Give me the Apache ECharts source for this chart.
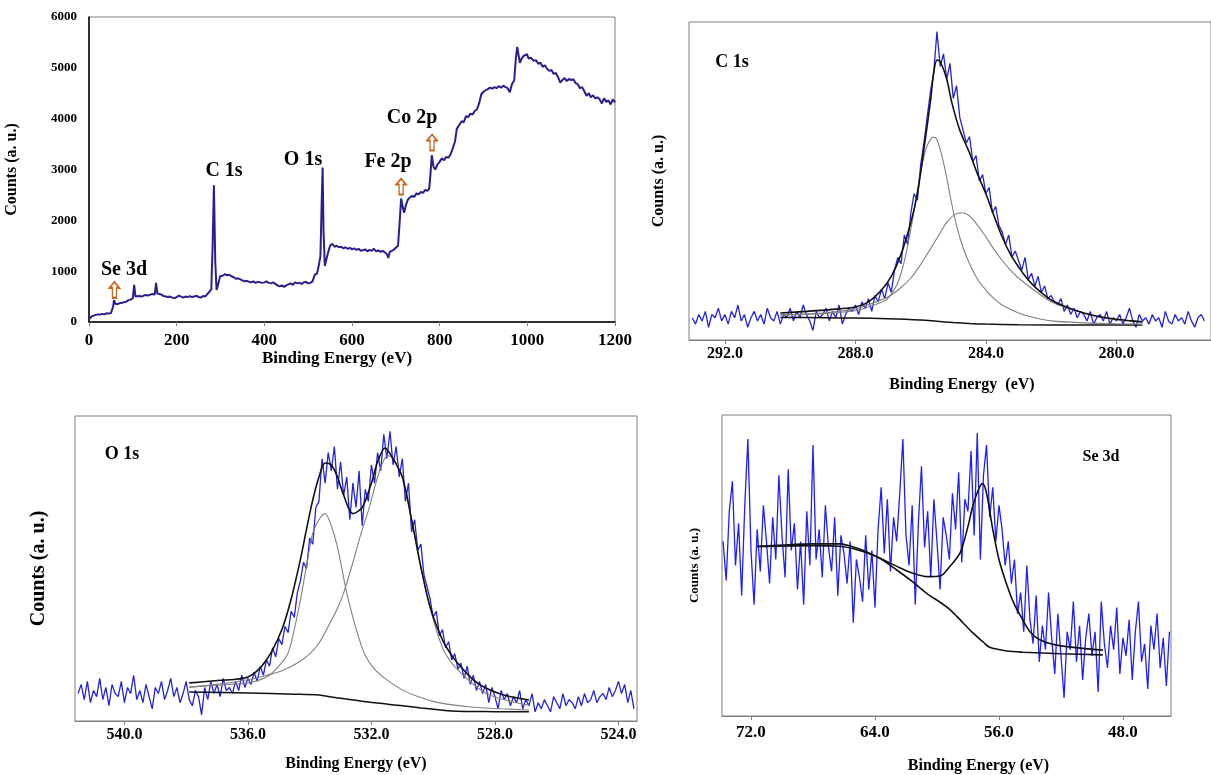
<!DOCTYPE html>
<html>
<head>
<meta charset="utf-8">
<title>XPS spectra</title>
<script src="https://cdn.jsdelivr.net/npm/echarts@6/dist/echarts.min.js"></script>
<style>
  html, body { margin: 0; padding: 0; background: #fff; }
  #chart-container { width: 1211px; height: 775px; }
</style>
</head>
<body>
<div id="chart-container"></div>
<script>
// survey spectrum, [binding energy eV, counts]
const surveyPoints = [
  [0,60],[3,90],[6,110],[10,120],[15,140],[20,150],[25,145],[30,160],[35,150],[40,170],[45,165],[50,175],[53,180],
  [55,300],[57,430],[60,360],[65,350],[70,370],[75,380],[80,390],[85,400],[90,430],[95,440],[100,470],[103,730],
  [106,500],[110,480],[115,510],[120,500],[125,520],[130,530],[135,520],[140,540],[145,550],[150,540],[153,770],
  [156,560],[160,530],[165,540],[170,510],[175,500],[180,490],[185,500],[190,480],[195,470],[200,490],[205,520],
  [210,500],[215,480],[220,500],[225,490],[230,510],[235,490],[240,500],[245,520],[250,490],[255,480],[260,510],
  [265,500],[270,550],[275,600],[279,640],[282,1500],[285,2690],[288,1200],[291,630],[295,750],[299,900],[305,910],
  [310,940],[315,920],[320,930],[325,900],[330,880],[335,850],[340,860],[345,840],[350,820],[355,800],[360,810],
  [365,790],[370,780],[375,800],[380,770],[385,790],[390,780],[395,770],[400,780],[405,800],[410,770],[415,760],
  [420,780],[425,750],[430,720],[435,700],[440,720],[445,690],[450,720],[455,740],[460,760],[465,730],[470,780],
  [475,760],[480,770],[485,750],[490,780],[495,790],[500,760],[505,770],[510,800],[515,930],[520,950],[524,1100],
  [528,1300],[531,2400],[533,3040],[535,1800],[538,1100],[542,1250],[546,1380],[550,1500],[555,1540],[560,1480],
  [565,1500],[570,1470],[575,1480],[580,1450],[585,1470],[590,1440],[595,1460],[600,1430],[605,1450],[610,1420],
  [615,1440],[620,1400],[625,1410],[630,1430],[635,1390],[640,1420],[645,1400],[650,1440],[655,1390],[660,1410],
  [665,1380],[670,1400],[675,1370],[680,1330],[683,1260],[686,1380],[690,1400],[695,1420],[700,1460],[705,1500],
  [709,2000],[712,2430],[716,2250],[719,2150],[723,2300],[727,2400],[732,2450],[737,2480],[742,2460],[747,2530],
  [752,2510],[757,2560],[762,2540],[767,2600],[772,2580],[776,2620],[779,2900],[782,3280],[786,3050],[790,3000],
  [795,3100],[800,3150],[805,3220],[810,3180],[815,3250],[820,3230],[825,3300],[830,3420],[835,3550],[839,3800],
  [845,3880],[850,3950],[855,3930],[860,4050],[865,4030],[870,4100],[875,4080],[880,4150],[885,4180],[890,4300],
  [895,4480],[900,4530],[905,4560],[910,4580],[915,4610],[920,4590],[925,4620],[930,4600],[935,4640],[940,4610],
  [945,4650],[950,4620],[955,4600],[960,4520],[965,4680],[970,4750],[974,5200],[977,5410],[980,5250],[983,5100],
  [987,5180],[991,5230],[995,5200],[999,5270],[1003,5180],[1008,5200],[1014,5140],[1020,5150],[1025,5080],
  [1030,5100],[1035,5020],[1040,5050],[1045,4980],[1050,4940],[1055,4960],[1060,4880],[1065,4900],[1070,4820],
  [1075,4710],[1080,4760],[1085,4800],[1090,4740],[1095,4780],[1100,4760],[1105,4775],[1110,4700],[1115,4680],
  [1120,4600],[1125,4620],[1130,4540],[1135,4450],[1140,4500],[1145,4420],[1150,4460],[1155,4400],[1160,4420],
  [1165,4380],[1170,4300],[1175,4400],[1180,4330],[1185,4360],[1190,4280],[1195,4380],[1200,4320]
];

// peak markers on the survey: [energy, counts]
const surveyArrows = [[58, 632], [712, 2664], [782.6, 3533]];

// C 1s region, 293.0 eV downwards in 0.1 eV steps (arbitrary units)
const c1sStart = 293.0;
const c1sStep = 0.1;
const c1sCounts = [
  7, 5, 8, 6, 9, 4, 8, 7, 10, 6,
  8, 5, 9, 7, 11, 6, 8, 4, 7, 9,
  6, 8, 5, 10, 7, 6, 9, 5, 8, 7,
  10, 6, 9, 7, 11, 8, 6, 3, 9, 7,
  8, 10, 6, 9, 7, 11, 5, 8, 10, 9,
  11, 8, 12, 10, 13, 9, 14, 12, 16, 13,
  18, 15, 22, 26, 24, 33, 30, 40, 46, 44,
  55, 62, 70, 78, 84, 97, 86, 90, 82, 87,
  76, 80, 70, 66, 62, 64, 56, 58, 50, 52,
  46, 48, 40, 42, 36, 34, 30, 33, 26, 28,
  25, 22, 26, 19, 21, 17, 20, 15, 17, 13,
  14, 12, 11, 13, 9, 11, 8, 10, 7, 9,
  8, 6, 9, 5, 7, 8, 6, 9, 5, 7,
  6, 8, 5, 7, 10, 6, 4, 8, 6, 7,
  5, 8, 6, 7, 4, 9, 6, 5, 8, 6,
  7, 5, 9, 6, 4, 7, 8, 6
];
const c1sEnvelope = [
  [290.3,8.5],[289.5,9.0],[288.5,9.8],[288,10.4],[287.6,12],[287.2,15.7],[286.9,20],[286.6,27],[286.3,37],
  [286.1,46],[285.9,60],[285.7,75],[285.6,84],[285.5,88],[285.4,87.5],[285.2,82],[285.04,74.5],[284.8,66],
  [284.5,58.8],[284.25,52],[284.0,46],[283.75,39],[283.5,32.4],[283.25,27],[283,23],[282.75,19.5],[282.5,16.7],
  [282.25,14.5],[282,12.6],[281.5,10.2],[281,8.5],[280.5,7.3],[280,6.5],[279.5,6],[279.2,5.7]
];
const c1sPeakA = [
  [290.3,7.9],[289,8.3],[288,9.2],[287.5,10.8],[287.06,12.6],[286.76,16.7],[286.6,21],[286.45,27],[286.25,37.7],
  [286.05,50],[285.84,60],[285.7,63],[285.6,63.8],[285.5,63],[285.35,58],[285.2,51],[285.05,43],[284.9,36],
  [284.7,29],[284.5,24],[284.25,19],[284,15.7],[283.75,13],[283.5,11],[283,8.5],[282.5,7],[282,6],[281,5.4],
  [280,5.1],[279.2,5.0]
];
const c1sPeakB = [
  [290.3,7.9],[289,8.5],[288,9.8],[287.5,11.5],[287,13.5],[286.6,16.5],[286.3,19.5],[286.05,23],[285.8,27],
  [285.5,32],[285.2,37],[284.95,39.5],[284.73,40],[284.5,39],[284.25,36],[284,32.4],[283.75,28.5],[283.5,25],
  [283.25,22],[283,19.5],[282.5,15.5],[282,12],[281.5,10],[281,8.5],[280.5,7.2],[280,6.4],[279.5,5.9],[279.2,5.7]
];
const c1sBackground = [
  [290.3,7.1],[289,7.0],[288,6.9],[287,6.7],[286,6.3],[285.5,5.9],[285,5.5],[284.5,5.2],[284,5.0],[283,4.8],
  [281,4.7],[279.2,4.7]
];

// O 1s region, 541.5 eV downwards in 0.1 eV steps
const o1sStart = 541.5;
const o1sStep = 0.1;
const o1sCounts = [
  9, 12, 7, 13, 6, 10, 8, 14, 7, 11,
  5, 12, 9, 8, 13, 6, 11, 9, 15, 7,
  10, 6, 12, 8, 4, 11, 9, 13, 7, 10,
  14, 8, 11, 6, 9, 13, 7, 5, 10, 8,
  2, 11, 7, 13, 9, 12, 8, 14, 10, 11,
  9, 13, 10, 15, 11, 14, 12, 16, 13, 18,
  15, 20, 18, 24, 21, 27, 25, 31, 29, 36,
  34, 42, 46, 52, 50, 60, 58, 70, 72, 86,
  78, 88, 82, 90, 76, 85, 74, 80, 66, 78,
  70, 82, 64, 76, 72, 84, 78, 88, 82, 94,
  86, 95, 84, 90, 80, 86, 72, 78, 62, 66,
  56, 58, 48, 44, 40, 34, 36, 28, 30, 24,
  26, 20, 22, 17, 19, 14, 18, 12, 15, 10,
  13, 9, 12, 6, 11, 8, 4, 10, 7, 9,
  5, 8, 6, 10, 4, 7, 5, 9, 3, 6,
  4, 7, 5, 3, 8, 6, 4, 9, 5, 7,
  6, 4, 8, 5, 9, 6, 7, 10, 6, 8,
  9, 7, 11, 8, 10, 13, 9, 12, 6, 10, 4
];
const o1sEnvelope = [
  [537.9,12.5],[537,13.3],[536,14.4],[535.4,20],[534.9,30],[534.6,40],[534.3,53],[534.1,63],[533.9,72.5],
  [533.7,80],[533.5,84.6],[533.3,84],[533.1,80],[532.9,74],[532.6,68],[532.3,70],[532.0,78],[531.8,85],
  [531.56,89.5],[531.3,86],[531,80],[530.7,66],[530.4,50.5],[530.1,37.4],[529.7,26.6],[529.4,21.5],
  [529.1,17.7],[528.7,13.5],[528.3,10.8],[527.8,8.8],[527.3,7.6],[526.9,6.9]
];
const o1sPeakA = [
  [537.9,11.1],[537,11.8],[536,12.5],[535.4,14.4],[535,18],[534.7,22.3],[534.5,30],[534.3,39.7],[534.1,51],
  [533.9,61.6],[533.7,66],[533.5,68],[533.3,64],[533.1,57],[532.8,42],[532.6,34],[532.4,27],[532.2,21.5],
  [531.9,17],[531.5,13.5],[531,10.2],[530.5,8],[529.9,6.2],[528.8,4.6],[527.8,4],[526.9,3.6]
];
const o1sPeakB = [
  [537.9,11.1],[537,12],[536,13.5],[535.4,15],[534.9,16.5],[534.4,19],[534,22],[533.7,25.5],[533.4,31],
  [533.1,37],[532.9,42],[532.6,52],[532.35,61],[532.1,69],[531.8,80],[531.6,85.5],[531.47,87],[531.3,86],
  [531,80],[530.7,66],[530.4,50.5],[530.1,37],[529.7,24],[529.4,19],[529.1,15.7],[528.7,12],[528.3,9.2],
  [527.8,7.2],[527.3,6],[526.9,5.2]
];
const o1sBackground = [
  [537.9,9.5],[536,9.2],[534.5,8.8],[533.7,8.5],[533.3,7.9],[532.1,6.2],[531,5],[530.4,4.3],[529.4,3.3],
  [528,3.05],[526.9,3.0]
];

// Se 3d region, 73.8 eV downwards in 0.2 eV steps
const se3dStart = 73.8;
const se3dStep = 0.2;
const se3dCounts = [
  58, 45, 68, 78, 50, 64, 40, 70, 92, 55,
  37, 62, 48, 70, 58, 44, 66, 52, 80, 60,
  46, 82, 55, 64, 42, 58, 37, 68, 50, 90,
  52, 62, 46, 70, 56, 48, 66, 40, 60, 54,
  44, 58, 31, 52, 46, 38, 60, 42, 55, 36,
  62, 76, 54, 72, 48, 66, 58, 74, 92, 60,
  50, 70, 37, 64, 83, 56, 68, 46, 72, 58,
  42, 66, 60, 52, 74, 62, 81, 51, 72, 68,
  88, 60, 94, 52, 80, 90, 66, 76, 58, 70,
  62, 50, 58, 44, 52, 34, 41, 28, 50, 32,
  24, 40, 18, 30, 22, 41, 26, 14, 34, 20,
  6, 28, 22, 38, 18, 30, 12, 26, 34, 20,
  28, 8, 38, 24, 16, 30, 22, 36, 14, 26,
  20, 32, 12, 28, 38, 18, 24, 9, 30, 22,
  34, 16, 26, 10, 28
];
const se3dEnvelope = [
  [71.6,56.3],[70,56.8],[68,57.2],[66.3,57.2],[65,55.5],[63.7,52.5],[62.5,49.5],[61.6,47.5],[60.6,46.3],
  [59.8,46.5],[59.2,49.5],[58.5,54.3],[58,63],[57.7,69.5],[57.3,75.5],[57.06,77.2],[56.8,74],[56.4,62],
  [56,52],[55.5,43.7],[55,37],[54.45,31.8],[54,28],[53.4,25.4],[52.5,23.8],[51.2,22.8],[49.3,21.9]
];
const se3dBackground = [
  [71.6,56.3],[68,56.6],[66.3,56.4],[65,55],[63.7,52.4],[62.6,48.5],[61.6,44.7],[60.6,40.5],[59.8,37.8],
  [59.2,35.5],[58.7,33],[57.7,27.7],[57,24.5],[56.6,22.8],[55.5,21.6],[54.45,21.2],[52,20.7],[49.3,20.3]
];

const c1sTicks = [292, 288, 284, 280];
const o1sTicks = [540, 536, 532, 528, 524];
const se3dTicks = [72, 64, 56, 48];

function onGrid(start, step, counts) {
  return counts.map((v, i) => [+(start - i * step).toFixed(2), v]);
}

const serif = "Liberation Serif";
const bold = { fontFamily: serif, fontWeight: "bold", color: "#000" };

function specAxis(idx, min, max, ticks, fontSize, margin, nameGap, pad) {
  return {
    gridIndex: idx,
    type: "value",
    inverse: true,
    min: min,
    max: max,
    name: idx === 1 ? "Binding Energy  (eV)" : "Binding Energy (eV)",
    nameLocation: "middle",
    nameGap: nameGap,
    nameTextStyle: Object.assign({ fontSize: 16, padding: pad }, bold),
    axisLine: { lineStyle: { color: "#7f7f7f" } },
    axisTick: { length: 4, customValues: ticks, lineStyle: { color: "#7f7f7f" } },
    axisLabel: Object.assign(
      { fontSize: fontSize, margin: margin, customValues: ticks, formatter: (v) => v.toFixed(1) },
      bold
    ),
    splitLine: { show: false },
  };
}

function countsAxis(idx, fontSize, nameGap) {
  return {
    gridIndex: idx,
    type: "value",
    min: 0,
    max: 100,
    name: "Counts (a. u.)",
    nameLocation: "middle",
    nameGap: nameGap,
    nameTextStyle: Object.assign({ fontSize: fontSize }, bold),
    axisLine: { show: false },
    axisTick: { show: false },
    axisLabel: { show: false },
    splitLine: { show: false },
  };
}

function line(idx, data, color, width, smooth) {
  return {
    type: "line",
    xAxisIndex: idx,
    yAxisIndex: idx,
    data: data,
    smooth: smooth,
    showSymbol: false,
    silent: true,
    lineStyle: { color: color, width: width },
  };
}

const dataBlue = "#2424d8";
const fitBlack = "#111111";
const compGrey = "#808080";

const dom = document.getElementById("chart-container");
const myChart = echarts.init(dom, null, { renderer: "canvas" });

const arrowPath = "path://M5,0 L10,6 L7,6 L7,16 L3,16 L3,6 L0,6 Z";

const option = {
  animation: false,
  backgroundColor: "#fff",
  grid: [
    { left: 89, top: 17, width: 526, height: 305, show: true, borderColor: "#7f7f7f", borderWidth: 1 },
    { left: 689, top: 22, width: 524, height: 318, show: true, borderColor: "#7f7f7f", borderWidth: 1 },
    { left: 75, top: 416, width: 562, height: 305, show: true, borderColor: "#7f7f7f", borderWidth: 1 },
    { left: 722, top: 415, width: 449, height: 311, show: true, borderColor: "#7f7f7f", borderWidth: 1 },
  ],
  xAxis: [
    {
      gridIndex: 0,
      type: "value",
      min: 0,
      max: 1200,
      interval: 200,
      name: "Binding Energy (eV)",
      nameLocation: "middle",
      nameGap: 26,
      nameTextStyle: Object.assign({ fontSize: 17, padding: [0, 30, 0, 0] }, bold),
      axisLine: { lineStyle: { color: "#000", width: 1.5 } },
      axisTick: { length: 4, lineStyle: { color: "#7f7f7f" } },
      axisLabel: Object.assign({ fontSize: 17, margin: 10, formatter: (v) => String(v) }, bold),
      splitLine: { show: false },
    },
    specAxis(1, 277.1, 293.1, c1sTicks, 16, 6, 37, [0, 0, 0, 24]),
    specAxis(2, 523.4, 541.6, o1sTicks, 16, 6, 35, [0, 0, 0, 0]),
    specAxis(3, 44.9, 73.87, se3dTicks, 17, 8, 42, [0, 0, 0, 64]),
  ],
  yAxis: [
    {
      gridIndex: 0,
      type: "value",
      min: 0,
      max: 6000,
      interval: 1000,
      name: "Counts (a. u.)",
      nameLocation: "middle",
      nameGap: 69,
      nameTextStyle: Object.assign({ fontSize: 16 }, bold),
      axisLine: { show: true, lineStyle: { color: "#000", width: 1.5 } },
      axisTick: { show: false },
      axisLabel: Object.assign({ fontSize: 13, margin: 12, formatter: (v) => String(v) }, bold),
      splitLine: { show: false },
    },
    countsAxis(1, 16, 22),
    countsAxis(2, 20, 26),
    countsAxis(3, 13, 21),
  ],
  series: [
    Object.assign(line(0, surveyPoints, "#2a1f8e", 2, false), {
      markPoint: {
        silent: true,
        symbol: arrowPath,
        symbolSize: [10, 16],
        itemStyle: { color: "#fff", borderColor: "#c8641e", borderWidth: 1.6 },
        label: { show: false },
        data: surveyArrows.map((a) => ({ coord: a })),
      },
    }),

    line(1, onGrid(c1sStart, c1sStep, c1sCounts), dataBlue, 1.3, false),
    line(1, c1sBackground, fitBlack, 1.5, 0.3),
    line(1, c1sPeakB, compGrey, 1.1, 0.3),
    line(1, c1sPeakA, compGrey, 1.1, 0.3),
    line(1, c1sEnvelope, fitBlack, 1.6, 0.3),

    line(2, onGrid(o1sStart, o1sStep, o1sCounts), dataBlue, 1.3, false),
    line(2, o1sBackground, fitBlack, 1.5, 0.3),
    line(2, o1sPeakA, compGrey, 1.1, 0.3),
    line(2, o1sPeakB, compGrey, 1.1, 0.3),
    line(2, o1sEnvelope, fitBlack, 1.6, 0.3),

    line(3, onGrid(se3dStart, se3dStep, se3dCounts), "#1e1eff", 1.3, false),
    line(3, se3dBackground, fitBlack, 1.6, 0.3),
    line(3, se3dEnvelope, fitBlack, 1.6, 0.3),
  ],
  graphic: [
    { type: "text", x: 124, y: 270, style: Object.assign({ text: "Se 3d", fontSize: 20, align: "center", verticalAlign: "middle" }, bold) },
    { type: "text", x: 224, y: 171, style: Object.assign({ text: "C 1s", fontSize: 20, align: "center", verticalAlign: "middle" }, bold) },
    { type: "text", x: 303, y: 160, style: Object.assign({ text: "O 1s", fontSize: 20, align: "center", verticalAlign: "middle" }, bold) },
    { type: "text", x: 388, y: 162, style: Object.assign({ text: "Fe 2p", fontSize: 20, align: "center", verticalAlign: "middle" }, bold) },
    { type: "text", x: 412, y: 118, style: Object.assign({ text: "Co 2p", fontSize: 20, align: "center", verticalAlign: "middle" }, bold) },
    { type: "text", x: 732, y: 62, style: Object.assign({ text: "C 1s", fontSize: 18, align: "center", verticalAlign: "middle" }, bold) },
    { type: "text", x: 122, y: 454, style: Object.assign({ text: "O 1s", fontSize: 18, align: "center", verticalAlign: "middle" }, bold) },
    { type: "text", x: 1101, y: 457, style: Object.assign({ text: "Se 3d", fontSize: 16, align: "center", verticalAlign: "middle" }, bold) },
  ],
};

myChart.setOption(option);
window.addEventListener("resize", myChart.resize);
</script>
</body>
</html>
